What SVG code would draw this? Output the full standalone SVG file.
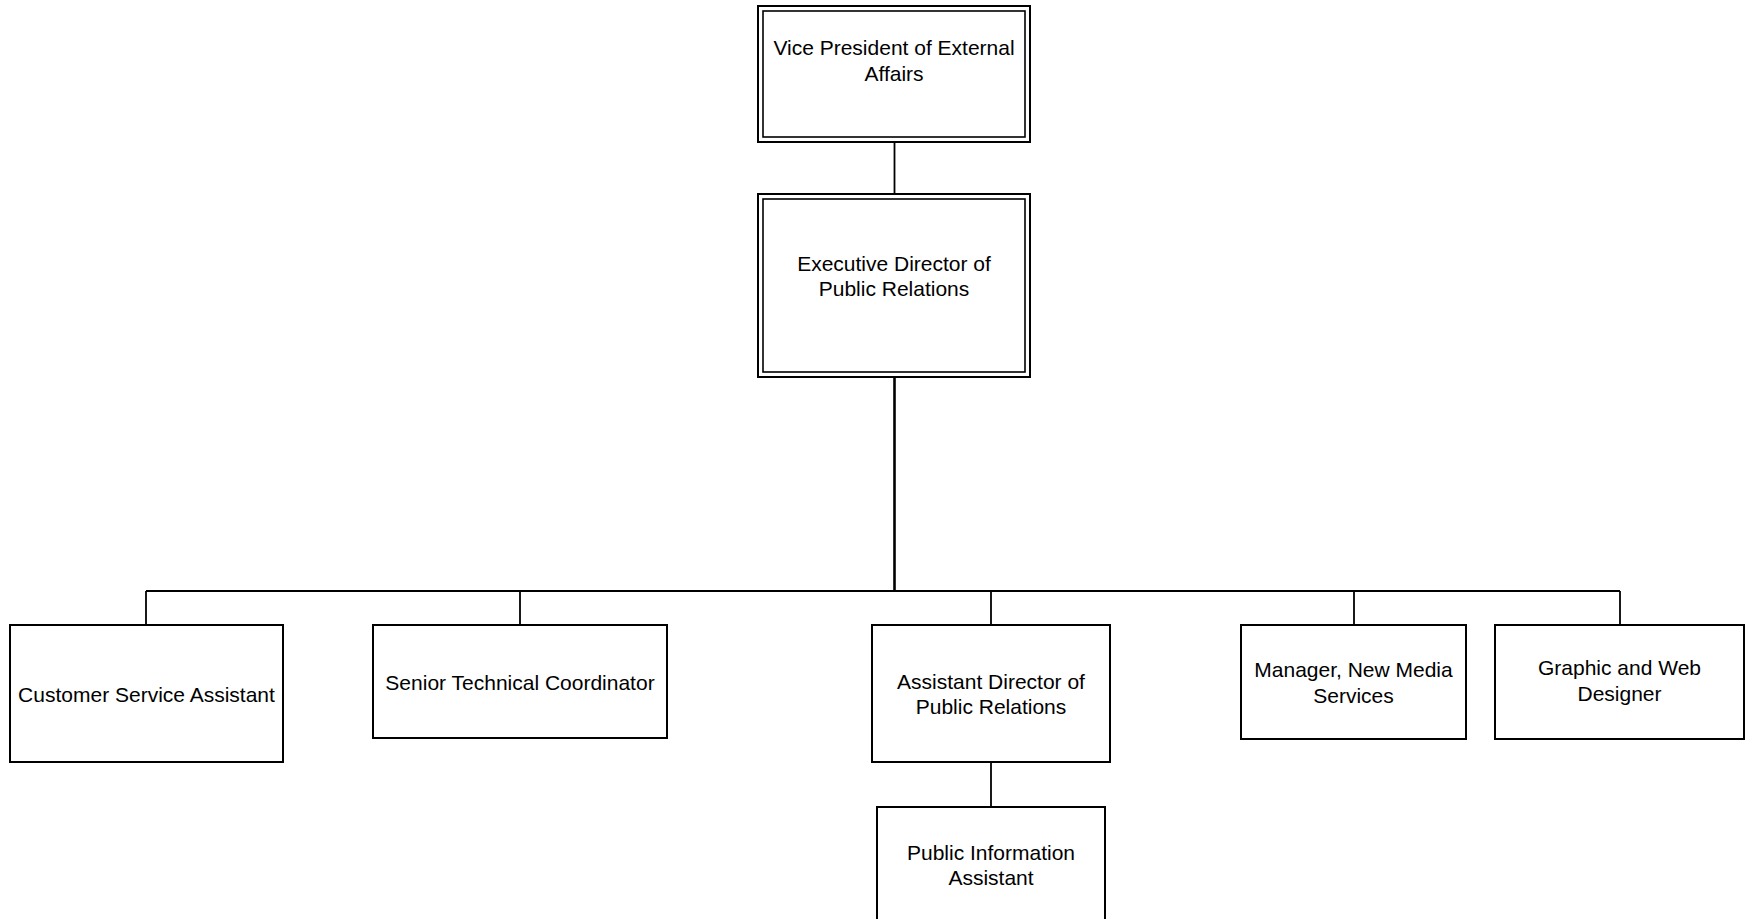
<svg xmlns="http://www.w3.org/2000/svg" width="1747" height="919" viewBox="0 0 1747 919">
<style>
.box{fill:#fff;stroke:#000;stroke-width:2}
.dbl{fill:none;stroke:#000;stroke-width:1.6}
.con{fill:none;stroke:#000;stroke-width:1.8}
.trunk{fill:none;stroke:#000;stroke-width:2.6}
text{font-family:"Liberation Sans",Arial,sans-serif;font-size:21px;fill:#000;text-anchor:middle}
</style>
<rect width="1747" height="919" fill="#fff"/>
<g id="connectors">
<line class="con" x1="894.5" y1="142" x2="894.5" y2="194"/>
<line class="trunk" x1="894.5" y1="377" x2="894.5" y2="591"/>
<line class="con" x1="146" y1="591" x2="1620" y2="591"/>
<line class="con" x1="146" y1="591" x2="146" y2="625"/>
<line class="con" x1="520" y1="591" x2="520" y2="625"/>
<line class="con" x1="991" y1="591" x2="991" y2="625"/>
<line class="con" x1="1354" y1="591" x2="1354" y2="625"/>
<line class="con" x1="1620" y1="591" x2="1620" y2="625"/>
<line class="con" x1="991" y1="762" x2="991" y2="807"/>
</g>
<g id="vp">
<rect class="box" x="758" y="6" width="272" height="136"/>
<rect class="dbl" x="763" y="11" width="262" height="126"/>
<text x="894" y="55">Vice President of External</text>
<text x="894" y="81">Affairs</text>
</g>
<g id="exec">
<rect class="box" x="758" y="194" width="272" height="183"/>
<rect class="dbl" x="763" y="199" width="262" height="173"/>
<text x="894" y="270.5">Executive Director of</text>
<text x="894" y="296">Public Relations</text>
</g>
<g id="customer">
<rect class="box" x="10" y="625" width="273" height="137"/>
<text x="146.5" y="702">Customer Service Assistant</text>
</g>
<g id="senior">
<rect class="box" x="373" y="625" width="294" height="113"/>
<text x="520" y="690">Senior Technical Coordinator</text>
</g>
<g id="assistant">
<rect class="box" x="872" y="625" width="238" height="137"/>
<text x="991" y="689">Assistant Director of</text>
<text x="991" y="714">Public Relations</text>
</g>
<g id="manager">
<rect class="box" x="1241" y="625" width="225" height="114"/>
<text x="1353.5" y="677">Manager, New Media</text>
<text x="1353.5" y="703">Services</text>
</g>
<g id="graphic">
<rect class="box" x="1495" y="625" width="249" height="114"/>
<text x="1619.5" y="675">Graphic and Web</text>
<text x="1619.5" y="701">Designer</text>
</g>
<g id="publicinfo">
<rect class="box" x="877" y="807" width="228" height="130"/>
<text x="991" y="860">Public Information</text>
<text x="991" y="885">Assistant</text>
</g>
</svg>
